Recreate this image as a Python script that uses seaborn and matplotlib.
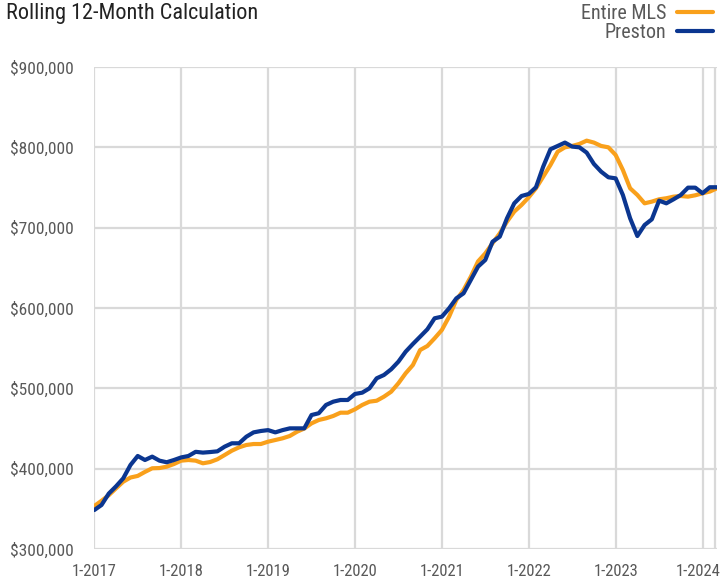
import matplotlib
matplotlib.use("Agg")
import matplotlib.pyplot as plt
from matplotlib import font_manager
import matplotlib.transforms as mtransforms
import seaborn as sns
import pandas as pd
import numpy as np
from matplotlib.ticker import FuncFormatter, FixedLocator
from matplotlib.lines import Line2D

# ---------------- data ----------------
start_year = 2017
n_months = 87  # 1-2017 .. 3-2024

entire_mls = [353.5, 360, 367, 375.5, 383.8, 389, 391, 396, 400.5, 400.8, 402.5, 405.8,
              410, 410.8, 410, 406.7, 408.3, 411.7, 417, 422.4, 426.6, 429.5, 430.7, 430.7,
              433.6, 435.7, 437.8, 440.7, 446, 450, 456.4, 460.6, 462.7, 465.6, 469.7, 469.7,
              473.9, 479.3, 483.4, 484.6, 489.6, 495.8, 506.3, 518.7, 529, 547.7, 552.7, 562.3,
              572.6, 589.2, 610, 622.4, 639, 658, 668, 680.6, 693, 707.5, 720, 728.2,
              737.8, 749, 763.5, 778, 794.6, 800, 801.7, 804.2, 808.3, 805.9, 801.7, 800,
              790.5, 771.8, 749, 740.7, 730.3, 732.4, 735.3, 736.6, 738.6, 739.4, 738.6, 740.3,
              742.8, 744.9, 749]
preston = [348.5, 354.8, 369, 378, 388, 404.6, 415.8, 410.8, 415, 410, 408, 410.8,
           414, 415.8, 421, 420, 420.7, 421.6, 427.4, 431.6, 431.6, 439.8, 445.2, 446.9,
           448, 445.2, 448, 450.2, 450.2, 450.2, 466.8, 469, 479.3, 483.4, 485.5, 485.5,
           493, 494.6, 500, 512.5, 516.6, 523.7, 533.2, 545.6, 555.2, 564.3, 573.5, 587.2,
           589.2, 599.6, 612, 618.3, 634.9, 651.5, 659.8, 682.5, 688.8, 711.7, 730.3, 739.4,
           741.9, 750.3, 776, 797.6, 801.7, 805.9, 800.9, 800, 793.4, 779.3, 769.7, 762.7,
           761.4, 740.7, 711.7, 689.6, 703.3, 710.4, 733.6, 730.3, 735.3, 740.7, 749.8, 749.8,
           742.8, 750.3, 750.3]
series_names = ["Entire MLS", "Preston"]
x_tick_labels = ["1-2017", "1-2018", "1-2019", "1-2020", "1-2021", "1-2022", "1-2023", "1-2024"]
y_ticks = [300000, 400000, 500000, 600000, 700000, 800000, 900000]
title_text = "Rolling 12-Month Calculation"

# ---------------- styling ----------------
sns.set_theme(style="white")
regular = {}
for f in font_manager.fontManager.ttflist:
    w = f.weight if isinstance(f.weight, int) else 400
    if f.style == "normal" and w <= 400:
        regular[f.name] = True
family = "DejaVu Sans"
for cand in ["Liberation Sans Narrow", "Roboto Condensed", "Open Sans Condensed", "Open Sans"]:
    if cand in regular:
        family = cand
        break
plt.rcParams["font.family"] = [family, "DejaVu Sans"]
plt.rcParams["font.weight"] = "normal"

colors = {"Entire MLS": "#F9A01B", "Preston": "#0B3690"}
grid_c = "#D9D9D9"
text_c = "#595959"

month_idx = np.arange(n_months)
df = pd.DataFrame({
    "month": np.concatenate([month_idx, month_idx]),
    "price": np.concatenate([np.array(entire_mls) * 1000, np.array(preston) * 1000]),
    "series": [series_names[0]] * n_months + [series_names[1]] * n_months,
})

fig = plt.figure(figsize=(7.23, 5.85), dpi=100)
ax = fig.add_axes([0.1304, 0.0615, 0.9917 - 0.1304, 0.8855 - 0.0615])

sns.lineplot(data=df, x="month", y="price", hue="series", palette=colors,
             linewidth=3.0, ax=ax, legend=False, sort=False)

ax.set_xlim(0, n_months - 1)
ax.set_ylim(300000, 900000)
xt = list(range(0, n_months, 12))
ax.xaxis.set_major_locator(FixedLocator(xt))
ax.set_xticklabels(x_tick_labels)
ax.set_yticks(y_ticks)
ax.yaxis.set_major_formatter(FuncFormatter(lambda v, p: f"${int(v):,}"))

ax.grid(True, color=grid_c, linewidth=1.6)
ax.axvline(n_months - 1.3, color=grid_c, linewidth=1.6, zorder=0)
for s in ax.spines.values():
    s.set_visible(False)
ax.set_axisbelow(True)
ax.tick_params(axis="both", which="both", length=7, width=1.6, color=grid_c,
               labelcolor=text_c, labelsize=12.5)
ax.tick_params(axis="x", pad=4, labelsize=12)
ax.tick_params(axis="y", pad=8)
ax.set_xlabel("")
ax.set_ylabel("")

# nudge the last x label left so it stays inside the canvas
last_lbl = ax.get_xticklabels()[-1]
last_lbl.set_transform(last_lbl.get_transform() +
                       mtransforms.ScaledTranslation(-4 / 100, 0, fig.dpi_scale_trans))

fig.text(0.008, 0.995, title_text, ha="left", va="top", fontsize=16, color="#222222")

handles = [Line2D([0], [0], color=colors[n], lw=3.0) for n in series_names]
fig.legend(handles, series_names, loc="upper right", bbox_to_anchor=(1.0, 1.01),
           frameon=False, markerfirst=False, fontsize=14.5, labelcolor=text_c,
           handlelength=1.8, handletextpad=0.5, labelspacing=0.0, borderaxespad=0.1)

fig.savefig("out.png", dpi=100)
